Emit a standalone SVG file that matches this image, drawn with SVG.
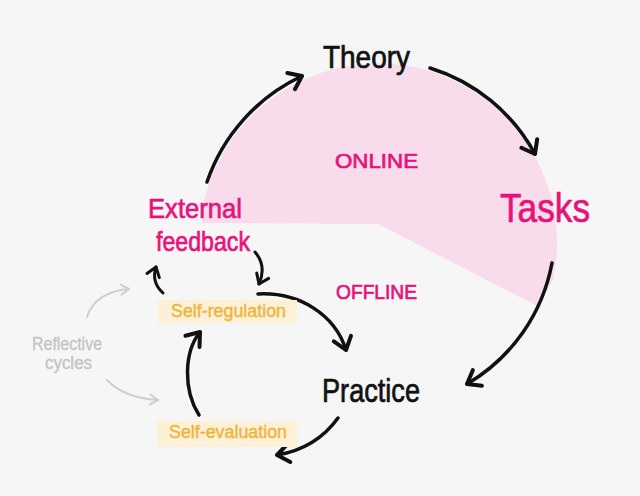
<svg xmlns="http://www.w3.org/2000/svg" width="640" height="496" viewBox="0 0 640 496">
<defs>
<style>
.hand{font-family:"Liberation Sans","DejaVu Sans",sans-serif;stroke-width:0.7;}
.blk{fill:#111;stroke:#111;}
.mag{fill:#e8137a;stroke:#e8137a;}
.org{fill:#f0b43c;stroke:#f0b43c;stroke-width:0.4;}
.gry{fill:#c4c4c4;stroke:#c4c4c4;stroke-width:0.3;}
.hl{fill:#fcf0d6;}
.con{fill:none;stroke:#111;stroke-width:3.5;stroke-linecap:round;}
.cons{fill:none;stroke:#111;stroke-width:3;stroke-linecap:round;}
.cong{fill:none;stroke:#cfcfcf;stroke-width:2;stroke-linecap:round;}
</style>
<marker id="ah" viewBox="0 0 24 24" refX="17" refY="12" markerWidth="24" markerHeight="24" markerUnits="userSpaceOnUse" orient="auto">
<path d="M5 3 L17 12 L5 21" fill="none" stroke="#111" stroke-width="4" stroke-linecap="round" stroke-linejoin="round"/>
</marker>
<marker id="ahs" viewBox="0 0 18 18" refX="13" refY="9" markerWidth="18" markerHeight="18" markerUnits="userSpaceOnUse" orient="auto">
<path d="M4 2.5 L13 9 L4 15.5" fill="none" stroke="#111" stroke-width="3" stroke-linecap="round" stroke-linejoin="round"/>
</marker>
<marker id="ahg" viewBox="0 0 16 16" refX="12" refY="8" markerWidth="16" markerHeight="16" markerUnits="userSpaceOnUse" orient="auto">
<path d="M4 3 L12 8 L4 13" fill="none" stroke="#cfcfcf" stroke-width="2" stroke-linecap="round" stroke-linejoin="round"/>
</marker>
</defs>
<rect x="0" y="0" width="640" height="496" fill="#f6f6f6"/>
<g id="online-region">
<path d="M203 223 L203 205 A178 178 0 1 1 553 280 L537 306 L378 224 Z" fill="#f9dcec"/>
</g>
<g id="connectors">
<path class="con" d="M207 182 A182 182 0 0 1 302 76" marker-end="url(#ah)"/>
<path class="con" d="M430 68 A180 180 0 0 1 535 154" marker-end="url(#ah)"/>
<path class="con" d="M552 263 A178 178 0 0 1 467 384" marker-end="url(#ah)"/>
<path class="cons" d="M163 293 Q151 282 156 267" marker-end="url(#ahs)"/>
<path class="cons" d="M255 252 Q267 266 259 284" marker-end="url(#ahs)"/>
<path class="con" d="M258 294 C300 292 335 315 346 350" marker-end="url(#ah)"/>
<path class="con" d="M199 415 C183 390 184 352 200 332" marker-end="url(#ah)"/>
<path class="con" d="M338 418 C322 440 302 451 277 455" marker-end="url(#ah)"/>
<path class="cong" d="M87 317 Q95 292 129 289" marker-end="url(#ahg)"/>
<path class="cong" d="M107 380 Q124 398 158 400" marker-end="url(#ahg)"/>
</g>
<g id="theory"><text class="hand blk" x="323" y="68" font-size="32" textLength="87" lengthAdjust="spacingAndGlyphs">Theory</text></g>
<g id="tasks"><text class="hand mag" x="500" y="222" font-size="40" textLength="90" lengthAdjust="spacingAndGlyphs">Tasks</text></g>
<g id="online"><text class="hand mag" x="335" y="168" font-size="20" textLength="83" lengthAdjust="spacingAndGlyphs">ONLINE</text></g>
<g id="offline"><text class="hand mag" x="336" y="299" font-size="20" textLength="81" lengthAdjust="spacingAndGlyphs">OFFLINE</text></g>
<g id="external-feedback">
<text class="hand mag" x="148" y="218" font-size="28" textLength="94" lengthAdjust="spacingAndGlyphs">External</text>
<text class="hand mag" x="156" y="251" font-size="28" textLength="94" lengthAdjust="spacingAndGlyphs">feedback</text>
</g>
<g id="self-regulation">
<rect class="hl" x="158" y="300" width="139" height="23"/>
<text class="hand org" x="171" y="317" font-size="18" textLength="115" lengthAdjust="spacingAndGlyphs">Self-regulation</text>
</g>
<g id="practice"><text class="hand blk" x="322" y="402" font-size="34" textLength="98" lengthAdjust="spacingAndGlyphs">Practice</text></g>
<g id="self-evaluation">
<rect class="hl" x="157" y="421" width="140" height="26"/>
<text class="hand org" x="169" y="438" font-size="18" textLength="118" lengthAdjust="spacingAndGlyphs">Self-evaluation</text>
</g>
<g id="reflective-cycles">
<text class="hand gry" x="32" y="350" font-size="18" textLength="70" lengthAdjust="spacingAndGlyphs">Reflective</text>
<text class="hand gry" x="45" y="369" font-size="18" textLength="47" lengthAdjust="spacingAndGlyphs">cycles</text>
</g>
</svg>
